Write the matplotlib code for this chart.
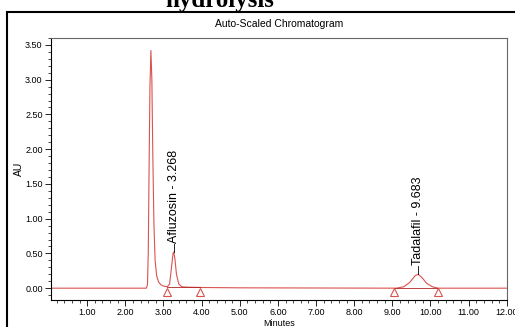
import matplotlib
matplotlib.use("Agg")
import matplotlib.pyplot as plt
import matplotlib.patches as patches
from matplotlib.ticker import MultipleLocator, FormatStrFormatter

# chromatogram trace (minutes, AU)
time_min = [0.05, 2.55, 2.58, 2.60, 2.62, 2.645, 2.67, 2.695, 2.72, 2.75, 2.78, 2.82,
            2.87, 2.93, 3.00, 3.10, 3.16, 3.21, 3.25, 3.27, 3.30, 3.34, 3.40, 3.48,
            3.60, 4.00, 5.00, 9.10, 9.30, 9.45, 9.60, 9.68, 9.78, 9.90, 10.05, 10.20,
            12.00]
signal_au = [0.0, 0.0, 0.05, 0.50, 1.60, 2.90, 3.42, 3.00, 1.90, 0.90, 0.40, 0.18,
             0.09, 0.05, 0.03, 0.02, 0.06, 0.30, 0.50, 0.52, 0.42, 0.20, 0.06, 0.02,
             0.015, 0.01, 0.005, 0.0, 0.02, 0.08, 0.18, 0.20, 0.15, 0.07, 0.02, 0.0,
             0.0]

# named peaks
peak_names = ["Afluzosin", "Tadalafil"]
peak_rt = [3.268, 9.683]
peak_height = [0.52, 0.20]

# integration start / end marks
int_start = [3.10, 9.05]
int_end = [3.95, 10.20]
int_level = [0.015, 0.0]

line_c = "#d9534f"
base_c = "#b22222"

fig = plt.figure(figsize=(5.15, 3.27), dpi=100)
ax = fig.add_axes([0.099, 0.0826, 0.885, 0.8012])

ax.plot(time_min, signal_au, c=line_c, lw=0.8, zorder=2)

for s, e, lv in zip(int_start, int_end, int_level):
    ax.plot([s, e], [lv, lv], c=base_c, lw=0.6, zorder=3)
    ax.plot([s, e], [-0.06, -0.06], linestyle="none", marker="^", ms=6,
            mfc="white", mec=line_c, mew=0.8, zorder=4, clip_on=False)

for name, rt, h in zip(peak_names, peak_rt, peak_height):
    ax.plot([rt, rt], [h, h + 0.12], c="black", lw=0.6, zorder=3)
    ax.text(rt, h + 0.13, "{} - {:.3f}".format(name, rt), rotation=90,
            ha="center", va="bottom", fontsize=9, family="Liberation Sans")

# formatting
ax.set_xlim(0.05, 12.0)
ax.set_ylim(-0.17, 3.60)
ax.xaxis.set_major_locator(MultipleLocator(1.0))
ax.xaxis.set_minor_locator(MultipleLocator(0.2))
ax.yaxis.set_major_locator(MultipleLocator(0.5))
ax.yaxis.set_minor_locator(MultipleLocator(0.1))
ax.xaxis.set_major_formatter(FormatStrFormatter("%.2f"))
ax.yaxis.set_major_formatter(FormatStrFormatter("%.2f"))
ax.set_xticks([t for t in range(1, 13)])
ax.tick_params(which="major", direction="out", length=4, width=0.6, labelsize=6.5, pad=2)
ax.tick_params(which="minor", direction="out", length=2.5, width=0.5)
for lab in ax.get_xticklabels() + ax.get_yticklabels():
    lab.set_family("Liberation Sans")
for side in ["top", "right"]:
    ax.spines[side].set_color("#666666")
    ax.spines[side].set_linewidth(0.8)
for side in ["left", "bottom"]:
    ax.spines[side].set_linewidth(0.8)

ax.set_xlabel("Minutes", fontsize=6.5, family="Liberation Sans", labelpad=1)
ax.set_ylabel("AU", fontsize=7.5, family="Liberation Sans")
ax.yaxis.set_label_coords(-0.059, 0.5)
ax.set_title("Auto-Scaled Chromatogram", fontsize=7.5, family="Liberation Sans", pad=8)

# outer frame and cut-off heading
fig.patches.append(patches.Rectangle((7 / 515, -0.05), 1.1, 1 - 12 / 327 + 0.05,
                                     transform=fig.transFigure, fill=False,
                                     edgecolor="black", lw=1.5))
fig.text(220 / 515, 1 - 7 / 327, "hydrolysis", ha="center", va="baseline",
         fontsize=18, fontweight="bold", family="Liberation Serif")

fig.savefig("out.png", dpi=100)
